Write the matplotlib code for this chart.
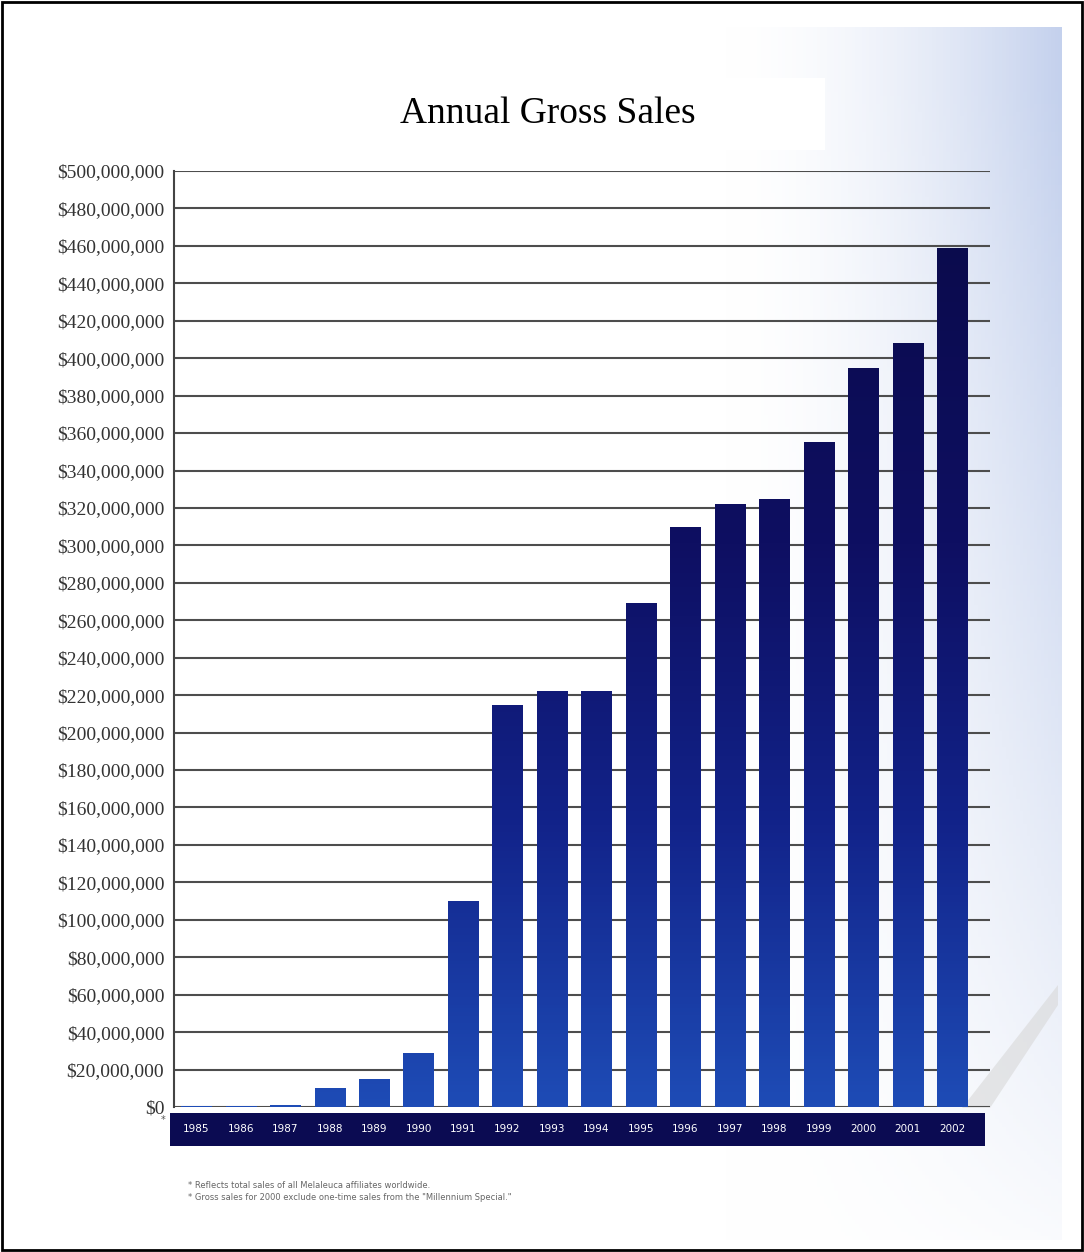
import numpy as np
import matplotlib.pyplot as plt
from matplotlib.patches import Rectangle, Polygon
from matplotlib.colors import LinearSegmentedColormap

# Data (US dollars)
years = [str(y) for y in range(1985, 2003)]
sales = [0.5e6, 0.5e6, 1.2e6, 10e6, 15e6, 29e6, 110e6, 215e6, 222e6, 222e6,
         269e6, 310e6, 322e6, 325e6, 355e6, 395e6, 408e6, 459e6]
yticks = list(range(0, 500_000_001, 20_000_000))
title = "Annual Gross Sales"
notes = ["* Reflects total sales of all Melaleuca affiliates worldwide.",
         "* Gross sales for 2000 exclude one-time sales from the \"Millennium Special.\""]

W, H = 1084, 1252
fig = plt.figure(figsize=(W / 100, H / 100), dpi=100)

# background: scanned page with a bluish tint on the right
bg = fig.add_axes([0, 0, 1, 1], zorder=-10)
bg.set_xlim(0, W)
bg.set_ylim(H, 0)
bg.axis("off")
gx, gy = np.meshgrid(np.linspace(0, 1, 300), np.linspace(0, 1, 300))
t = np.clip((gx - 0.68) / 0.32, 0, 1) ** 1.7 * np.clip(1.05 - gy, 0, 1) ** 0.8
white = np.array([1.0, 1.0, 1.0])
tint = np.array([0.77, 0.82, 0.93])
img = white * (1 - t[..., None]) + tint * t[..., None]
bg.imshow(img, extent=[12, 1062, 1240, 27], aspect="auto")
bg.add_patch(Polygon([(962, 1108), (990, 1108), (1058, 1005), (1058, 985)],
                     closed=True, fc="#d8d8d8", ec="none", alpha=0.6))
bg.add_patch(Rectangle((2, 2), W - 4, H - 4, fill=False, lw=2, ec="black"))

# title box
bg.add_patch(Rectangle((265, 78), 560, 72, fc="white", ec="none"))
bg.text(548, 114, title, ha="center", va="center", fontsize=27,
        family="Liberation Serif", color="black")

# main chart
ax = fig.add_axes([174 / W, 145 / H, 816 / W, 936 / H])
ax.patch.set_alpha(0)
x = np.arange(len(years))
bars = ax.bar(x, sales, width=0.68, color="none", zorder=3)

cmap = LinearSegmentedColormap.from_list(
    "bar", [(0, "#1e4cb6"), (0.3, "#12238a"), (0.6, "#0e0f62"), (1, "#0a0a48")])
grad = np.linspace(1, 0, 256)[:, None]
for b in bars:
    im = ax.imshow(grad, cmap=cmap, vmin=0, vmax=1, aspect="auto",
                   extent=[-0.5, 17.85, 0, 5e8], zorder=3)
    im.set_clip_path(b)

ax.set_xlim(-0.5, 17.85)
ax.set_ylim(0, 5e8)
ax.set_yticks(yticks)
ax.set_yticklabels(["${:,}".format(v) for v in yticks], family="Liberation Serif")
ax.set_xticks([])
ax.tick_params(axis="y", length=0, pad=7, labelsize=14, labelcolor="#333333")
ax.yaxis.grid(True, color="#4d4d4d", lw=1.5)
ax.set_axisbelow(True)
for s in ["top", "right", "bottom"]:
    ax.spines[s].set_visible(False)
ax.spines["left"].set_color("#444444")
ax.spines["left"].set_linewidth(1.5)

# year band
band = fig.add_axes([170 / W, (H - 1146) / H, 815 / W, 33 / H])
band.set_facecolor("#0b0b52")
band.set_xlim(-0.5 - 4 / 44.47, 17.85 - 5 / 44.47)
band.set_ylim(0, 1)
band.set_xticks([])
band.set_yticks([])
for s in band.spines.values():
    s.set_visible(False)
for i, yr in enumerate(years):
    band.text(i, 0.5, yr, ha="center", va="center", color="white", fontsize=7.5,
              family=["Liberation Sans Narrow", "DejaVu Sans"])

fig.text(163 / W, 1 - 1120 / H, "*", fontsize=7, color="#555555", ha="center", va="center")
fig.text(188 / W, 1 - 1185 / H, notes[0], fontsize=6, color="#666666", va="center")
fig.text(188 / W, 1 - 1198 / H, notes[1], fontsize=6, color="#666666", va="center")

fig.savefig("out.png", dpi=100)
